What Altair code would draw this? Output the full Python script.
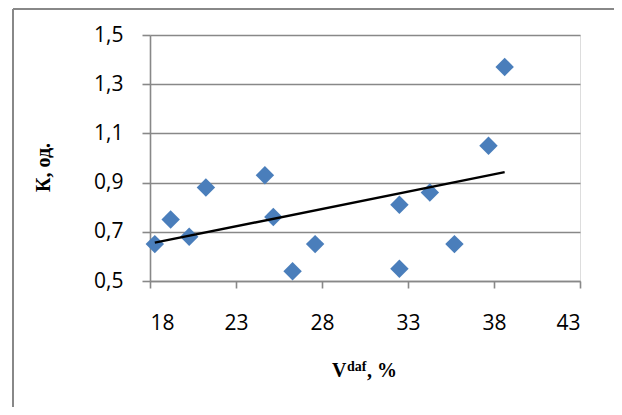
import altair as alt
import pandas as pd

# data
vdaf = [18.28, 19.2, 20.28, 21.25, 24.68, 25.17, 26.29, 27.6, 32.5, 32.5, 34.27, 35.7, 37.68, 38.62]
k_val = [0.65, 0.75, 0.68, 0.88, 0.93, 0.76, 0.54, 0.65, 0.81, 0.55, 0.86, 0.65, 1.05, 1.37]
x_ticks = [18, 23, 28, 33, 38, 43]
y_ticks = [0.5, 0.7, 0.9, 1.1, 1.3, 1.5]

df = pd.DataFrame({"x": vdaf, "y": k_val})
one = pd.DataFrame({"k": [0]})

GRAY = "#888888"
W, H = 430, 246

xs = alt.Scale(domain=[18, 43], nice=False, zero=False)
ys = alt.Scale(domain=[0.5, 1.5], nice=False, zero=False)

x_axis = alt.Axis(values=x_ticks, grid=False, title=None,
                  labelFont="Open Sans", labelFontSize=21, labelColor="#000000",
                  labelPadding=24, tickSize=7, tickColor=GRAY, tickWidth=1.6,
                  domainColor=GRAY, domainWidth=1.6)
y_axis = alt.Axis(values=y_ticks, grid=True, gridColor=GRAY, gridWidth=1.6,
                  labelExpr="replace(format(datum.value, '.1f'), '.', ',')",
                  labelFont="Open Sans", labelFontSize=21, labelColor="#000000",
                  labelPadding=19, tickSize=8, tickColor=GRAY, tickWidth=1.6,
                  domainColor=GRAY, domainWidth=1.6,
                  title="К, од.", titleFont="Liberation Serif", titleFontSize=20,
                  titleFontWeight="bold", titleColor="#000000", titleAngle=-90,
                  titleBaseline="middle", titleAlign="center",
                  titleX=-107, titleY=132)

points = alt.Chart(df).mark_point(shape="diamond", filled=True, size=340,
                                  color="#4A7EBB", opacity=1).encode(
    x=alt.X("x:Q", scale=xs, axis=x_axis),
    y=alt.Y("y:Q", scale=ys, axis=y_axis),
)

trend = alt.Chart(df).transform_regression("x", "y").mark_line(
    color="#000000", strokeWidth=2.4).encode(
    x=alt.X("x:Q", scale=xs),
    y=alt.Y("y:Q", scale=ys),
)

# x-axis title "V^daf, %" built from pieces
t_v = alt.Chart(one).mark_text(text="V", font="Liberation Serif", fontSize=20,
                               fontWeight="bold", align="left", baseline="alphabetic",
                               color="#000000").encode(x=alt.value(182), y=alt.value(342))
t_daf = alt.Chart(one).mark_text(text="daf", font="Liberation Serif", fontSize=14,
                                 fontWeight="bold", align="left", baseline="alphabetic",
                                 color="#000000").encode(x=alt.value(197), y=alt.value(336))
t_pct = alt.Chart(one).mark_text(text=", %", font="Liberation Serif", fontSize=20,
                                 fontWeight="bold", align="left", baseline="alphabetic",
                                 color="#000000").encode(x=alt.value(217), y=alt.value(342))

# chart-area border (left and top)
b_left = alt.Chart(one).mark_rule(color=GRAY, strokeWidth=2).encode(
    x=alt.value(-137), y=alt.value(-26), y2=alt.value(380))
b_top = alt.Chart(one).mark_rule(color=GRAY, strokeWidth=2).encode(
    x=alt.value(-137), x2=alt.value(470), y=alt.value(-26))

chart = alt.layer(points, trend, t_v, t_daf, t_pct, b_left, b_top).properties(
    width=W, height=H,
    autosize=alt.AutoSizeParams(type="none"),
    padding={"left": 142, "top": 27, "right": 34, "bottom": 126},
).configure_view(stroke=None).configure(background="#ffffff")

chart.save("out.html", embed_options={"renderer": "svg", "actions": False})
